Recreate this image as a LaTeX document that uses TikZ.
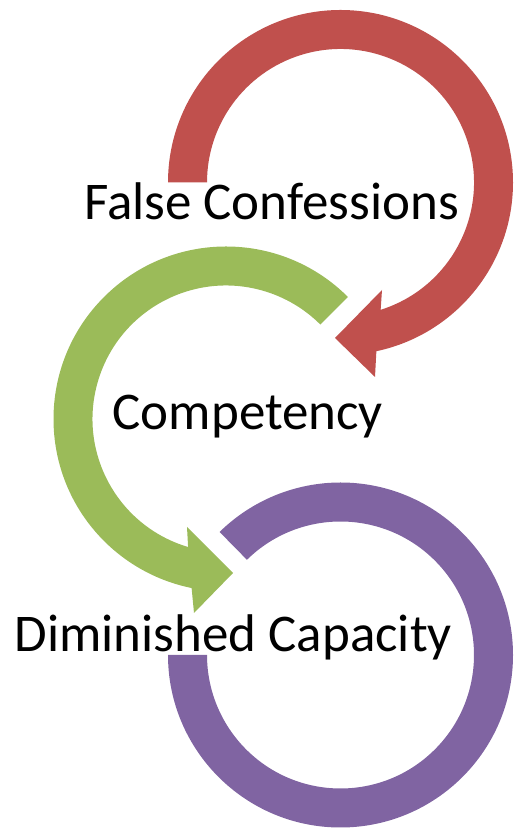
\documentclass[tikz,border=0pt]{standalone}
\usepackage{fontspec}
\setmainfont{Carlito}
\usetikzlibrary{calc}
\definecolor{redarc}{HTML}{C0504D}
\definecolor{greenarc}{HTML}{9BBB59}
\definecolor{purplearc}{HTML}{8064A2}
\begin{document}
\begin{tikzpicture}[x=1pt,y=1pt,
  label/.style={anchor=base west,inner sep=0pt,font=\fontsize{53}{62}\selectfont,text=black}]
\useasboundingbox (0,0) rectangle (514,829);
\coordinate (rc) at (340.5,646.5);
\coordinate (gc) at (226,410);
\coordinate (pc) at (340.5,174);
% red arrow
\fill[redarc] ($(rc)+(180:172.5)$) arc[start angle=180,end angle=-78,radius=172.5pt]
  -- (375,452) -- (335,491) -- (382,539)
  -- ($(rc)+(-72.5:133.5)$) arc[start angle=-72.5,end angle=180,radius=133.5pt] -- cycle;
% green arrow
\fill[greenarc] ($(gc)+(45:172.5)$) arc[start angle=45,end angle=258.5,radius=172.5pt]
  -- (194,216) -- (233,256) -- (187,302)
  -- ($(gc)+(253.5:133.5)$) arc[start angle=253.5,end angle=45,radius=133.5pt] -- cycle;
% purple ring
\fill[purplearc] ($(pc)+(180:172.5)$) arc[start angle=180,end angle=494.5,radius=172.5pt]
  -- ($(pc)+(494.5:133.5)$) arc[start angle=494.5,end angle=180,radius=133.5pt] -- cycle;
% labels
\node[label] (fc) at (84,609) {False Confessions};
\node[label] (cp) at (112.5,399.5) {Competency};
\node[label] (dc) at (14.5,177.3) {Diminished Capacity};
\end{tikzpicture}
\end{document}
